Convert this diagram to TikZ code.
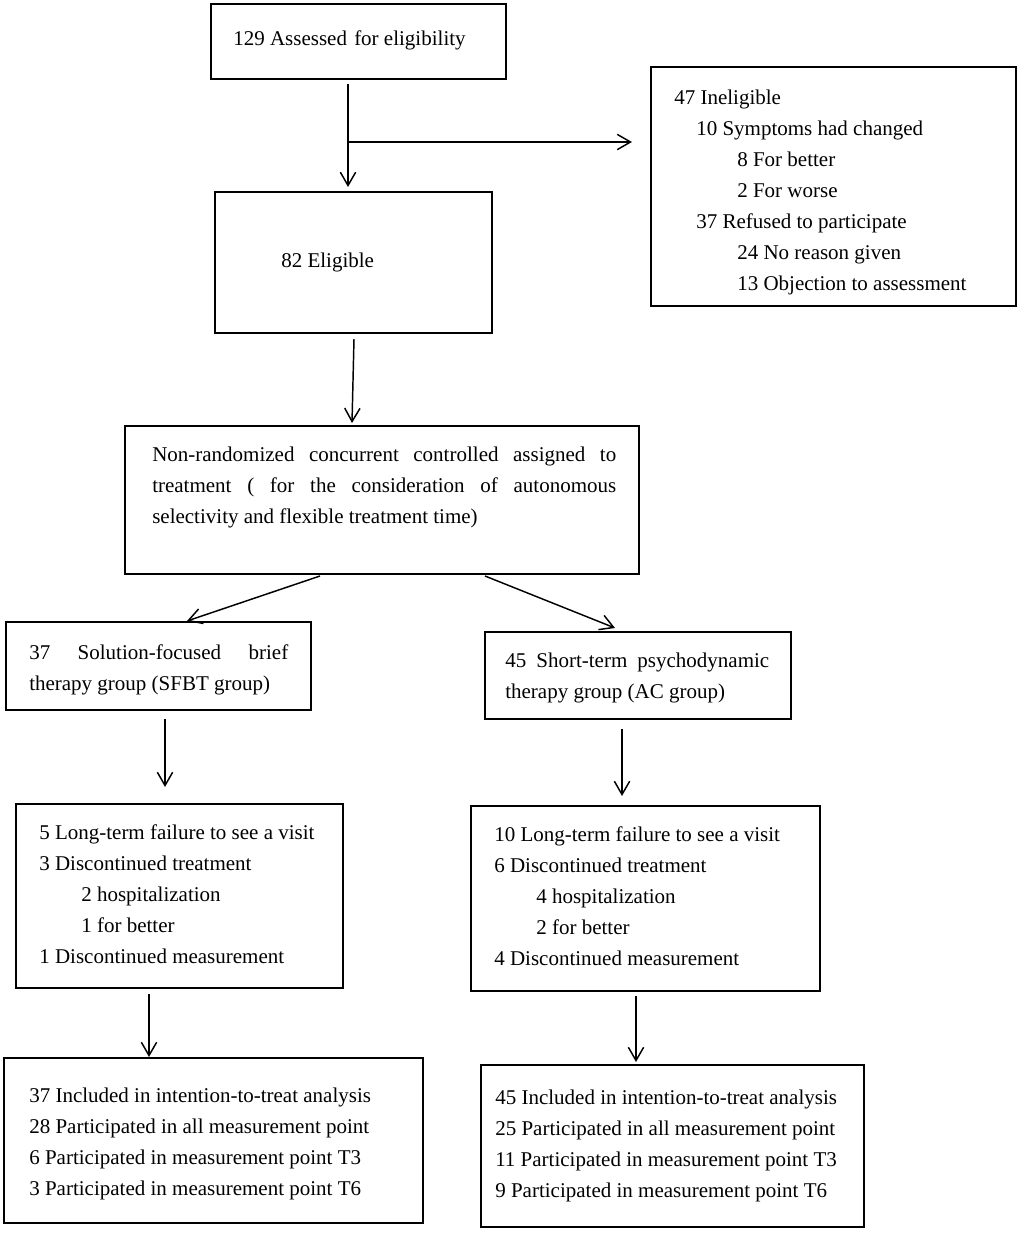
\documentclass[tikz,border=0pt]{standalone}
\usepackage{fontspec}
\setmainfont{Liberation Serif}
\usetikzlibrary{arrows.meta,fit,calc}
\begin{document}
\begin{tikzpicture}[x=0.75pt,y=-0.75pt,
  box/.style={draw, line width=1.5pt, inner sep=0pt},
  txt/.style={anchor=north west, inner sep=0pt, align=left,
    font=\fontsize{15.75}{23.25}\selectfont},
  jtxt/.style={anchor=north west, inner sep=0pt, align=justify,
    font=\fontsize{15.75}{23.25}\selectfont},
  arr/.style={line width=1.1pt, -{Straight Barb[length=10pt,width=11.5pt,line width=1.1pt]}}]
\useasboundingbox (0,0) rectangle (1023,1235);
% boxes
\node[box, fit={(211,4) (506,79)}] (assess) {};
\node[box, fit={(651,67) (1016,306)}] (inel) {};
\node[box, fit={(215,192) (492,333)}] (elig) {};
\node[box, fit={(125,426) (639,574)}] (nonrand) {};
\node[box, fit={(6,622) (311,710)}] (sfbt) {};
\node[box, fit={(485,632) (791,719)}] (ac) {};
\node[box, fit={(16,804) (343,988)}] (lossl) {};
\node[box, fit={(471,806) (820,991)}] (lossr) {};
\node[box, fit={(4,1058) (423,1223)}] (finl) {};
\node[box, fit={(481,1065) (864,1227)}] (finr) {};
% texts
\node[txt] (assesst) at (233,30.5) {129 Assessed\hspace{1.5pt} for eligibility};
\node[txt] (inelt) at (674,89.5) {47 Ineligible\\
\hspace*{16.5pt}10 Symptoms had changed\\
\hspace*{47.25pt}8 For better\\
\hspace*{47.25pt}2 For worse\\
\hspace*{16.5pt}37 Refused to participate\\
\hspace*{47.25pt}24 No reason given\\
\hspace*{47.25pt}13 Objection to assessment};
\node[txt] (eligt) at (281,252.5) {82 Eligible};
\node[jtxt, text width=348pt] (nonrandt) at (152,446.5) {Non-randomized concurrent controlled assigned to\linebreak treatment ( for the consideration of autonomous\linebreak selectivity and flexible treatment time)};
\node[jtxt, text width=194.25pt] (sfbtt) at (29,644.5) {37 Solution-focused brief\linebreak therapy group (SFBT group)};
\node[jtxt, text width=198pt] (act) at (505,652.5) {45 Short-term psychodynamic\linebreak therapy group (AC group)};
\node[txt] (losslt) at (39,824.5) {5 Long-term failure to see a visit\\
3 Discontinued treatment\\
\hspace*{31.5pt}2 hospitalization\\
\hspace*{31.5pt}1 for better\\
1 Discontinued measurement};
\node[txt] (lossrt) at (494,826.5) {10 Long-term failure to see a visit\\
6 Discontinued treatment\\
\hspace*{31.5pt}4 hospitalization\\
\hspace*{31.5pt}2 for better\\
4 Discontinued measurement};
\node[txt] (finlt) at (29,1087.5) {37 Included in intention-to-treat analysis\\
28 Participated in all measurement point\\
6 Participated in measurement point T3\\
3 Participated in measurement point T6};
\node[txt] (finrt) at (495,1089.5) {45 Included in intention-to-treat analysis\\
25 Participated in all measurement point\\
11 Participated in measurement point T3\\
9 Participated in measurement point T6};
% connectors
\coordinate (split) at (348,142);
\draw[line width=1.1pt] ($(assess.south)+(-10.5,4)$) -- (split);
\draw[arr] (split) -- ($(elig.north)+(-5.5,-4)$);
\draw[arr] (split) -- ($(split -| inel.west)+(-18,0)$);
\draw[arr] ($(elig.south)+(0.5,5)$) -- ($(nonrand.north)+(-30,-2)$);
\draw[arr] ($(nonrand.south)+(-62,1)$) -- ($(sfbt.north)+(28.5,0)$);
\draw[arr] ($(nonrand.south)+(103,1)$) -- ($(ac.north)+(-23,-3)$);
\draw[arr] ($(sfbt.south)+(6.5,8)$) -- ($(lossl.north)+(-14.5,-16)$);
\draw[arr] ($(ac.south)+(-16,9)$) -- ($(lossr.north)+(-23.5,-9)$);
\draw[arr] ($(lossl.south)+(-30.5,5)$) -- ($(finl.north)+(-64.5,0)$);
\draw[arr] ($(lossr.south)+(-9.5,4)$) -- ($(finr.north)+(-36.5,-2)$);
\end{tikzpicture}
\end{document}
